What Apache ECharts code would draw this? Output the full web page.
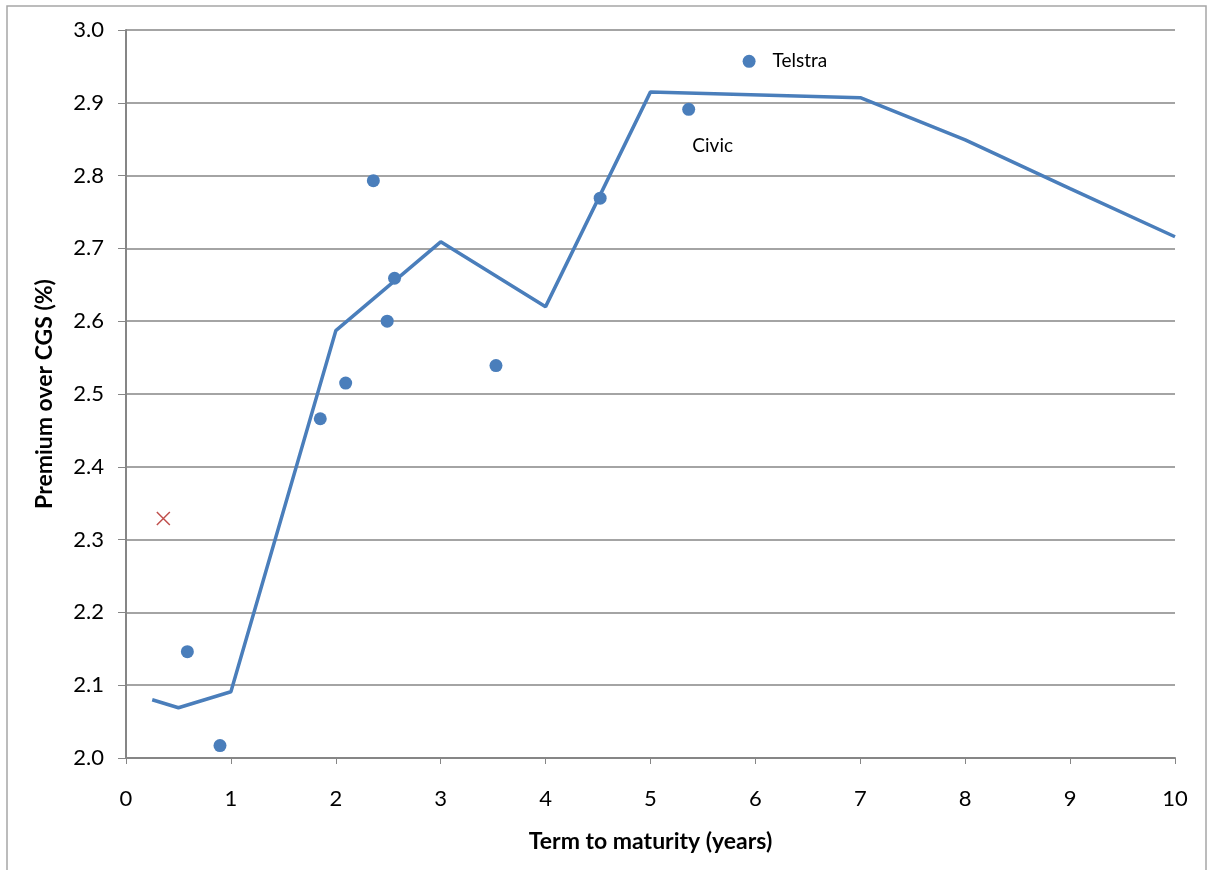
<!DOCTYPE html>
<html>
<head>
<meta charset="utf-8">
<title>Premium over CGS</title>
<script src="https://cdn.jsdelivr.net/npm/echarts@6/dist/echarts.min.js"></script>
<style>
  html, body { margin: 0; padding: 0; background: #fff; }
  #main { width: 1212px; height: 870px; }
</style>
</head>
<body>
<div id="main"></div>
<script>
// fitted curve (term, premium)
var curveTerm = [0.25, 0.5, 1, 2, 3, 4, 5, 7, 8, 9, 10];
var curvePremium = [2.08, 2.069, 2.091, 2.587, 2.709, 2.62, 2.915, 2.907, 2.849, 2.782, 2.716];

// bond observations
var bondTerm = [0.585, 0.896, 1.852, 2.094, 2.358, 2.49, 2.56, 3.527, 4.52, 5.364, 5.94];
var bondPremium = [2.146, 2.017, 2.466, 2.515, 2.793, 2.6, 2.659, 2.539, 2.769, 2.891, 2.957];
var bondLabel = ['', '', '', '', '', '', '', '', '', 'Civic', 'Telstra'];

// red cross observation
var crossTerm = [0.356];
var crossPremium = [2.329];

var xTicks = [0, 1, 2, 3, 4, 5, 6, 7, 8, 9, 10];

var FONT = 'Lato, "Open Sans", sans-serif';
var BLUE = '#4a7ebb';

function pairs(xs, ys){
	var out = [];
	for(var i=0;i<xs.length;i++){
		out.push([xs[i], ys[i]]);
	}
	return out;
}

var bondData = [];
for(var i=0;i<bondTerm.length;i++){
	var item = {value:[bondTerm[i], bondPremium[i]]};
	if(bondLabel[i]=='Civic'){
		item.label = {show:true, formatter:'Civic', position:'bottom', offset:[24, 16]};
	}else if(bondLabel[i]=='Telstra'){
		item.label = {show:true, formatter:'Telstra', position:'right', distance:17};
	}
	bondData.push(item);
}

var myChart = echarts.init(document.getElementById('main'));
var option = {
	animation: false,
	backgroundColor: '#fff',
	graphic: [{
		type: 'rect',
		shape: {x: 7, y: 6, width: 1199, height: 880},
		style: {fill: 'none', stroke: '#a6a6a6', lineWidth: 1.5},
		silent: true
	}],
	grid: {left: 126, right: 37, top: 30, bottom: 112},
	xAxis: {
		type: 'value',
		min: 0, max: 10, interval: 1,
		name: 'Term to maturity (years)',
		nameLocation: 'middle',
		nameGap: 72,
		nameTextStyle: {fontFamily: FONT, fontSize: 23, fontWeight: 'bold', color: '#000'},
		axisLine: {show: true, onZero: false, lineStyle: {color: '#868686', width: 2}},
		axisTick: {show: true, length: 6, lineStyle: {color: '#868686'}},
		axisLabel: {fontFamily: FONT, fontSize: 22, color: '#000', margin: 30,
			formatter: function(v){ return xTicks.indexOf(v)>=0 ? String(v) : ''; }},
		splitLine: {show: false}
	},
	yAxis: {
		type: 'value',
		min: 2.0, max: 3.0, interval: 0.1,
		name: 'Premium over CGS (%)',
		nameLocation: 'middle',
		nameGap: 70,
		nameTextStyle: {fontFamily: FONT, fontSize: 23, fontWeight: 'bold', color: '#000'},
		axisLine: {show: true, lineStyle: {color: '#868686', width: 2}},
		axisTick: {show: true, length: 8, lineStyle: {color: '#868686'}},
		axisLabel: {fontFamily: FONT, fontSize: 22, color: '#000', margin: 22,
			formatter: function(v){ return v.toFixed(1); }},
		splitLine: {show: true, lineStyle: {color: '#868686', width: 1.5}}
	},
	series: [
		{
			name: 'curve',
			type: 'line',
			data: pairs(curveTerm, curvePremium),
			showSymbol: false,
			symbol: 'none',
			lineStyle: {color: BLUE, width: 3.5},
			z: 2
		},
		{
			name: 'bonds',
			type: 'scatter',
			data: bondData,
			symbol: 'circle',
			symbolSize: 13,
			itemStyle: {color: BLUE, opacity: 1},
			label: {fontFamily: FONT, fontSize: 19, color: '#000'},
			z: 3
		},
		{
			name: 'cross',
			type: 'scatter',
			data: pairs(crossTerm, crossPremium),
			symbol: 'path://M0,0 L10,10 M10,0 L0,10',
			symbolSize: 13,
			itemStyle: {color: 'none', borderColor: '#c0504d', borderWidth: 1.5, opacity: 1},
			z: 3
		}
	]
};
myChart.setOption(option);
</script>
</body>
</html>
